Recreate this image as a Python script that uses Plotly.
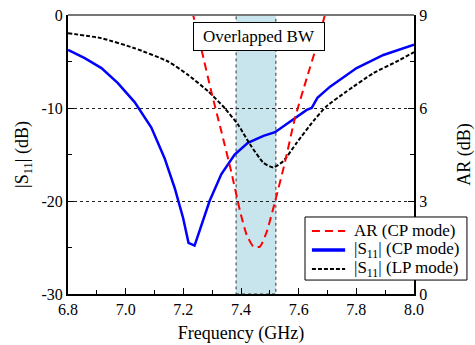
import plotly.graph_objects as go

# S11 (CP mode)
freq_cp = [6.800, 6.858, 6.916, 6.973, 7.031, 7.089, 7.135, 7.170, 7.199, 7.218, 7.239, 7.262, 7.291, 7.332, 7.378,
           7.424, 7.478, 7.518, 7.582, 7.628, 7.645, 7.665, 7.709, 7.801, 7.894, 8.000]
s11_cp = [-3.75, -4.64, -5.71, -7.32, -9.36, -12.1, -15.4, -18.6, -21.8, -24.5, -24.8, -22.7, -20.0, -17.1, -15.0,
          -13.75, -13.0, -12.6, -11.25, -10.2, -10.0, -8.9, -7.7, -5.7, -4.3, -3.2]

# S11 (LP mode)
freq_lp = [6.800, 6.916, 7.031, 7.147, 7.216, 7.286, 7.343, 7.390, 7.431, 7.478, 7.512, 7.547, 7.593, 7.651,
           7.697, 7.767, 7.859, 7.940, 8.000]
s11_lp = [-1.96, -2.5, -3.57, -5.0, -6.43, -8.2, -10.0, -11.8, -13.9, -15.9, -16.4, -15.7, -13.75, -11.4,
          -9.8, -8.2, -6.25, -5.0, -4.0]

# AR (CP mode)
freq_ar = [7.222, 7.234, 7.262, 7.297, 7.332, 7.366, 7.397, 7.420, 7.443, 7.466, 7.489, 7.518, 7.553, 7.587,
           7.628, 7.663, 7.691, 7.702]
ar_cp = [9.5, 9.0, 7.92, 6.53, 5.24, 3.95, 2.66, 1.9, 1.53, 1.53, 2.0, 2.98, 4.27, 5.67,
         6.96, 8.03, 9.0, 9.4]

bw_start, bw_end = 7.383, 7.521

x_ticks = [6.8, 7.0, 7.2, 7.4, 7.6, 7.8, 8.0]
x_ticklabels = ["6.8", "7.0", "7.2", "7.4", "7.6", "7.8", "8.0"]
y_ticks = [-30, -20, -10, 0]
y_ticklabels = ["-30", "-20", "-10", "0"]
y2_ticks = [0, 3, 6, 9]

series_names = ["AR (CP mode)", "|S<sub>11</sub>| (CP mode)", "|S<sub>11</sub>| (LP mode)"]

FONT = "Times New Roman, Liberation Serif, serif"

styles = [
    dict(color="#ff0000", width=2, dash="8px,5px"),
    dict(color="#0000ff", width=2.5),
    dict(color="#000000", width=2, dash="4px,2px"),
]

fig = go.Figure()

fig.add_vrect(x0=bw_start, x1=bw_end, fillcolor="#c8e4ec", opacity=1, layer="below",
              line=dict(color="#333333", width=1, dash="dot"))

fig.add_trace(go.Scatter(x=freq_ar, y=ar_cp, yaxis="y2", mode="lines", name=series_names[0],
                         line=dict(**styles[0], shape="spline", smoothing=0.5)))
fig.add_trace(go.Scatter(x=freq_cp, y=s11_cp, mode="lines", name=series_names[1],
                         line=dict(**styles[1])))
fig.add_trace(go.Scatter(x=freq_lp, y=s11_lp, mode="lines", name=series_names[2],
                         line=dict(**styles[2], shape="spline", smoothing=0.5)))

# top border in gray
fig.add_shape(type="line", xref="paper", yref="paper", x0=0, x1=1, y0=1, y1=1,
              line=dict(color="#777777", width=2))

# hand-drawn legend box (compact rows like the original)
fig.add_shape(type="rect", xref="paper", yref="paper", x0=0.685, x1=1.153, y0=0.050, y1=0.276,
              line=dict(color="black", width=1), fillcolor="white", layer="above")
row_y = [0.226, 0.158, 0.090]
legend_line_styles = [
    dict(color="#ff0000", width=2, dash="8px,5px"),
    dict(color="#0000ff", width=3.5),
    dict(color="#000000", width=2, dash="4px,2px"),
]
for name, ls, ry in zip(series_names, legend_line_styles, row_y):
    fig.add_shape(type="line", xref="paper", yref="paper", x0=0.705, x1=0.801, y0=ry, y1=ry,
                  line=ls, layer="above")
    fig.add_annotation(x=0.821, y=ry, xref="paper", yref="paper", text=name, showarrow=False,
                       xanchor="left", yanchor="middle",
                       font=dict(family=FONT, size=17, color="black"))

fig.add_annotation(x=(bw_start + bw_end) / 2 + 0.01, y=0.923, xref="x", yref="paper", text="Overlapped BW",
                   showarrow=False, xanchor="center", yanchor="middle",
                   bgcolor="white", bordercolor="black", borderwidth=1,
                   width=128, height=25, borderpad=1,
                   font=dict(family=FONT, size=17, color="black"))

fig.update_layout(
    width=475, height=345,
    margin=dict(l=68, r=61, t=15, b=51),
    paper_bgcolor="white", plot_bgcolor="white",
    font=dict(family=FONT, size=16, color="black"),
    showlegend=False,
    xaxis=dict(range=[6.8, 8.0], tickvals=x_ticks, ticktext=x_ticklabels,
               ticks="inside", ticklen=6, tickcolor="black", automargin=False,
               tickfont=dict(family=FONT, size=16),
               minor=dict(dtick=0.1, ticks="inside", ticklen=4, tickcolor="black"),
               showline=True, linecolor="black", linewidth=2, showgrid=False, zeroline=False,
               title=dict(text="Frequency (GHz)", font=dict(family=FONT, size=18), standoff=9)),
    yaxis=dict(range=[-30, 0], tickvals=y_ticks, ticktext=y_ticklabels,
               ticks="inside", ticklen=6, tickcolor="black", automargin=False,
               tickfont=dict(family=FONT, size=16),
               minor=dict(dtick=5, ticks="inside", ticklen=4, tickcolor="black", showgrid=False),
               showline=True, linecolor="black", linewidth=2,
               showgrid=True, gridcolor="#222222", gridwidth=1, griddash="dot", zeroline=False,
               title=dict(text="|S<sub>11</sub>| (dB)", font=dict(family=FONT, size=18), standoff=8)),
    yaxis2=dict(range=[0, 9], overlaying="y", side="right", tickvals=y2_ticks,
                ticks="inside", ticklen=6, tickcolor="black", automargin=False,
                tickfont=dict(family=FONT, size=16),
                minor=dict(dtick=1.5, ticks="inside", ticklen=4, tickcolor="black"),
                showline=True, linecolor="black", linewidth=2, showgrid=False, zeroline=False,
                title=dict(text="AR (dB)", font=dict(family=FONT, size=18), standoff=32)),
)

fig.write_html("out.html", config={"displayModeBar": False},
               post_script="document.body.style.margin='0';document.body.style.overflow='hidden';")
